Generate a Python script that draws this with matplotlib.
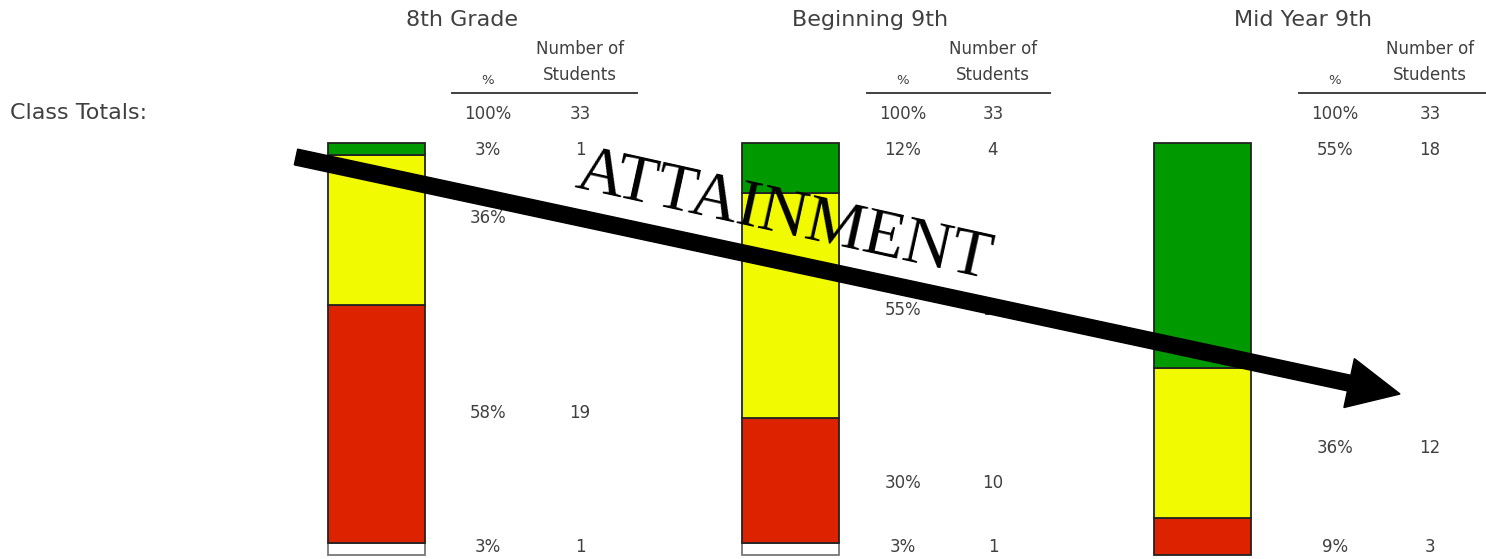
import matplotlib
matplotlib.use("Agg")
from matplotlib import pyplot as plt
from matplotlib.patches import FancyArrow

# student counts per group (top to bottom: green, yellow, red, white)
periods = ['8th Grade', 'Beginning 9th', 'Mid Year 9th']
green = [1, 4, 18]
yellow = [12, 18, 12]
red = [19, 10, 3]
white = [1, 1, 0]
total = 33

pct_labels = [['3%', '36%', '58%', '3%'],
              ['12%', '55%', '30%', '3%'],
              ['55%', '36%', '9%']]
num_labels = [['1', '12', '19', '1'],
              ['4', '18', '10', '1'],
              ['18', '12', '3']]
# where each label row sits, in pixels from the top
label_rows = [[150, 218, 413, 547],
              [150, 310, 483, 547],
              [150, 448, 547]]

W, H = 1486, 559
bar_x = [376.5, 790.5, 1202.5]
title_x = [462, 870, 1303]
pct_x = [488, 903, 1335]
num_x = [580, 993, 1430]
bar_top, bar_bot = 143, 555
ppu = (bar_bot - bar_top) / total


def yy(py):
    return (bar_bot - py) / ppu


fig = plt.figure(figsize=(W / 100, H / 100), dpi=100)
ax = fig.add_axes([0, 0, 1, 1])
ax.set_xlim(0, W)
ax.set_ylim(yy(H), yy(0))
ax.axis('off')

txt = dict(color='#404040', family='DejaVu Sans')
small = 12

for i in range(3):
    bottom = 0
    for vals, col, ec in [(white, 'white', '#777777'), (red, '#dd2200', '#222222'),
                          (yellow, '#f2fa00', '#222222'), (green, '#009900', '#222222')]:
        if vals[i] > 0:
            ax.bar(bar_x[i], vals[i], bottom=bottom, width=97, color=col,
                   edgecolor=ec, linewidth=1.3, zorder=2)
        bottom += vals[i]

    ax.text(title_x[i], yy(20), periods[i], ha='center', va='center',
            fontsize=16, **txt)
    ax.text(num_x[i], yy(49), 'Number of', ha='center', va='center', fontsize=small, **txt)
    ax.text(num_x[i], yy(75), 'Students', ha='center', va='center', fontsize=small, **txt)
    ax.text(pct_x[i], yy(80), '%', ha='center', va='center', fontsize=9.5, **txt)
    ax.plot([pct_x[i] - 36, num_x[i] + 57], [yy(93), yy(93)], color='#404040', lw=1.4)
    ax.text(pct_x[i], yy(114), '100%', ha='center', va='center', fontsize=small, **txt)
    ax.text(num_x[i], yy(114), str(total), ha='center', va='center', fontsize=small, **txt)
    for p, n, r in zip(pct_labels[i], num_labels[i], label_rows[i]):
        ax.text(pct_x[i], yy(r), p, ha='center', va='center', fontsize=small, **txt)
        ax.text(num_x[i], yy(r), n, ha='center', va='center', fontsize=small, **txt)

ax.text(10, yy(113), 'Class Totals:', ha='left', va='center', fontsize=16, **txt)

# overlay in pixel units for the arrow and its caption
ov = fig.add_axes([0, 0, 1, 1])
ov.set_xlim(0, W)
ov.set_ylim(H, 0)
ov.axis('off')
x0, y0, x1, y1 = 296, 157, 1400, 394
ov.add_patch(FancyArrow(x0, y0, x1 - x0, y1 - y0, width=16, head_width=50,
                        head_length=52, length_includes_head=True,
                        color='black', zorder=5))
ov.text(780, 233, 'ATTAINMENT', rotation=-12.5, rotation_mode='anchor',
        ha='center', va='baseline', fontsize=48, family='Liberation Serif',
        color='black', zorder=6)

fig.savefig('out.png', dpi=100)
